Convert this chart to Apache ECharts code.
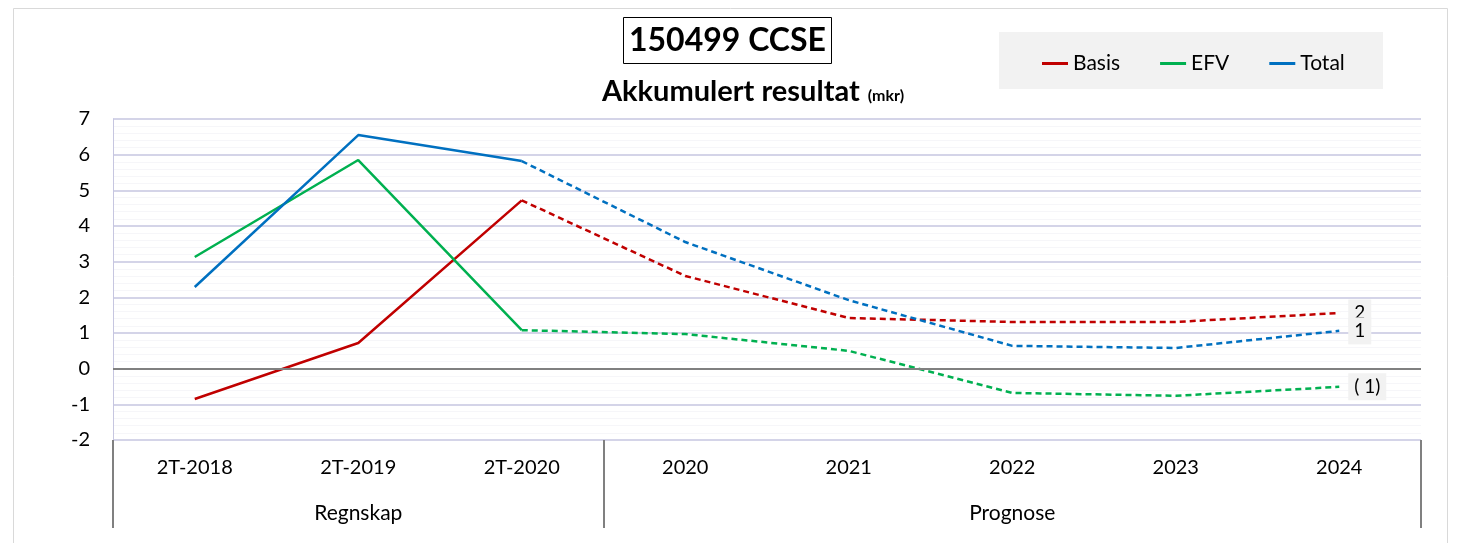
<!DOCTYPE html>
<html>
<head>
<meta charset="utf-8">
<script src="https://cdn.jsdelivr.net/npm/echarts@6/dist/echarts.min.js"></script>
<style>
  html, body { margin: 0; padding: 0; background: #fff; }
  #main { width: 1457px; height: 543px; }
</style>
</head>
<body>
<div id="main"></div>
<script>
// kategorier og grupper
var categories = ['2T-2018', '2T-2019', '2T-2020', '2020', '2021', '2022', '2023', '2024'];
var groupNames = ['Regnskap', 'Prognose'];
var groupBounds = [0, 3, 8];
var yTicks = { min: -2, max: 7, step: 1 };

// verdier (mkr)
var basis = [-0.85, 0.72, 4.72, 2.6, 1.42, 1.31, 1.31, 1.56];
var efv   = [3.13, 5.85, 1.08, 0.97, 0.5, -0.68, -0.76, -0.51];
var total = [2.29, 6.55, 5.82, 3.55, 1.92, 0.64, 0.58, 1.06];

var lastActual = 2; // siste regnskapspunkt, prognose stiplet herfra
var font = 'Lato, "Open Sans", sans-serif';

function fmt(v) {
    var r = Math.round(v);
    return r < 0 ? '( ' + Math.abs(r) + ')' : String(r);
}

function solidPart(arr) {
    return arr.map(function (v, i) { return i <= lastActual ? v : null; });
}
function dashedPart(arr) {
    return arr.map(function (v, i) {
        if (i < lastActual) return null;
        if (i === arr.length - 1) {
            return { value: v, label: { show: true } };
        }
        return v;
    });
}

function makeSeries(name, arr, color) {
    var base = {
        name: name,
        type: 'line',
        showSymbol: true,
        symbolSize: 0.01,
        lineStyle: { color: color, width: 2.5 },
        itemStyle: { color: color },
        emphasis: { disabled: true },
        silent: true
    };
    var solid = Object.assign({}, base, { data: solidPart(arr) });
    var dashed = Object.assign({}, base, {
        data: dashedPart(arr),
        lineStyle: { color: color, width: 2.5, type: [6, 4] },
        label: {
            show: false,
            position: 'right',
            distance: 8,
            formatter: function (p) { return fmt(p.value); },
            color: '#000',
            fontSize: 19,
            fontFamily: font,
            backgroundColor: '#f2f2f2',
            padding: [4, 6]
        }
    });
    return [solid, dashed];
}

var series = [].concat(
    makeSeries('Basis', basis, '#c00000'),
    makeSeries('EFV', efv, '#00b050'),
    makeSeries('Total', total, '#0070c0')
);
// nullinje
series[0].markLine = {
    silent: true,
    symbol: 'none',
    label: { show: false },
    lineStyle: { color: '#808080', width: 2, type: 'solid' },
    data: [{ yAxis: 0 }]
};

var myChart = echarts.init(document.getElementById('main'));
myChart.setOption({
    animation: false,
    backgroundColor: '#fff',
    textStyle: { fontFamily: font },
    graphic: [
        { type: 'rect', z: -10, shape: { x: 13.5, y: 8.5, width: 1434, height: 600 },
          style: { fill: '#fff', stroke: '#d9d9d9', lineWidth: 1 } },
        { type: 'rect', z: -5, shape: { x: 999, y: 32, width: 384, height: 57 },
          style: { fill: '#f2f2f2' } }
    ],
    title: [
        {
            text: '150499 CCSE',
            left: 623,
            top: 17,
            borderColor: '#000',
            borderWidth: 1,
            padding: [8, 6, 7, 6],
            textStyle: { fontSize: 32, fontWeight: 'bold', color: '#000', fontFamily: font }
        },
        {
            text: '{b|Akkumulert resultat}{s|(mkr)}',
            left: 597,
            top: 72,
            textStyle: {
                rich: {
                    b: { fontSize: 29, fontWeight: 'bold', color: '#000', fontFamily: font },
                    s: { fontSize: 16, color: '#000', fontFamily: font, padding: [8, 0, 0, 8] }
                }
            }
        }
    ],
    legend: {
        data: ['Basis', 'EFV', 'Total'],
        left: 1037,
        top: 48,
        icon: 'rect',
        itemWidth: 26,
        itemHeight: 3,
        itemGap: 40,
        textStyle: { fontSize: 21, color: '#000', fontFamily: font }
    },
    grid: { left: 113, right: 36, top: 119, bottom: 103 },
    xAxis: [
        {
            type: 'category',
            data: categories,
            boundaryGap: true,
            axisLine: { show: false, onZero: false },
            axisTick: { show: false },
            axisLabel: { fontSize: 20, color: '#000', margin: 18, interval: 0, fontFamily: font }
        },
        {
            type: 'value',
            min: groupBounds[0],
            max: groupBounds[groupBounds.length - 1],
            position: 'bottom',
            axisLine: { show: false, onZero: false },
            splitLine: { show: false },
            axisTick: {
                show: true,
                inside: false,
                length: 88,
                customValues: groupBounds,
                lineStyle: { color: '#808080', width: 2 }
            },
            axisLabel: {
                customValues: [1.5, 5.5],
                formatter: function (v) { return v < groupBounds[1] ? groupNames[0] : groupNames[1]; },
                fontSize: 21,
                color: '#000',
                margin: 63,
                fontFamily: font
            }
        }
    ],
    yAxis: {
        type: 'value',
        min: yTicks.min,
        max: yTicks.max,
        interval: yTicks.step,
        axisLine: { show: true, lineStyle: { color: '#c6c6e0', width: 1 } },
        axisTick: { show: false },
        axisLabel: { fontSize: 20, color: '#000', margin: 23, fontFamily: font },
        splitLine: { lineStyle: { color: '#c6c6e0', width: 1.5 } },
        minorTick: { show: false, splitNumber: 5 },
        minorSplitLine: { show: true, lineStyle: { color: '#f6f6f9', width: 1 } }
    },
    series: series
});
</script>
</body>
</html>
